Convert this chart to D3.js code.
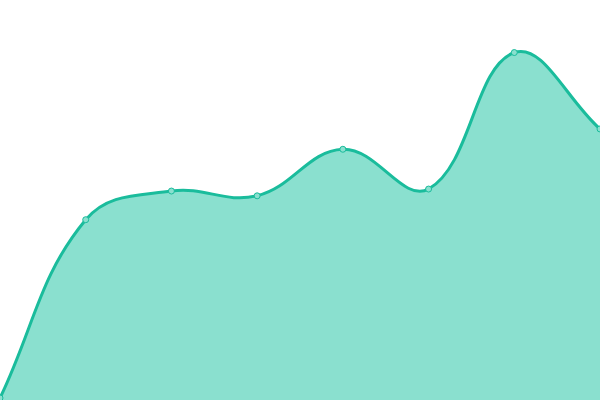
<!DOCTYPE html>
<html lang="en">
    <head>
        <meta charset="utf-8">
        <title>Area chart</title>
        <style>
            html, body { margin: 0; padding: 0; background: #fff; }
            svg { display: block; }
        </style>
    </head>
    <body>
        <div id="wrapper"></div>
        <script src="https://cdn.jsdelivr.net/npm/d3@7"></script>
        <script>
            const categories = ["A", "B", "C", "D", "E", "F", "G", "H"]
            const values = [0, 44.8, 52, 50.8, 62.5, 52.5, 86.8, 67.6]
            const yDomain = [0, 100]

            // spline with distance-weighted control points (tension 0.4)
            function splinePath(pts, tension, closeTo){
                const path = d3.path()
                const ctrl = pts.map((cur, i) => {
                    const prev = pts[i - 1] || cur
                    const next = pts[i + 1] || cur
                    const d01 = Math.hypot(cur[0] - prev[0], cur[1] - prev[1])
                    const d12 = Math.hypot(next[0] - cur[0], next[1] - cur[1])
                    let s01 = d01 / (d01 + d12)
                    let s12 = d12 / (d01 + d12)
                    s01 = isNaN(s01) ? 0 : s01
                    s12 = isNaN(s12) ? 0 : s12
                    const fa = tension * s01
                    const fb = tension * s12
                    return {
                        before: [cur[0] - fa * (next[0] - prev[0]), cur[1] - fa * (next[1] - prev[1])],
                        after: [cur[0] + fb * (next[0] - prev[0]), cur[1] + fb * (next[1] - prev[1])]
                    }
                })
                path.moveTo(pts[0][0], pts[0][1])
                for (let i = 1; i < pts.length; i++) {
                    const a = ctrl[i - 1].after
                    const b = ctrl[i].before
                    path.bezierCurveTo(a[0], a[1], b[0], b[1], pts[i][0], pts[i][1])
                }
                if (closeTo !== undefined) {
                    path.lineTo(pts[pts.length - 1][0], closeTo)
                    path.lineTo(pts[0][0], closeTo)
                    path.closePath()
                }
                return path.toString()
            }

            function drawChart(){
                const dimensions = { width: 600, height: 400 }

                const wrapper = d3.select("#wrapper")
                    .append("svg")
                    .attr("width", dimensions.width)
                    .attr("height", dimensions.height)

                const xScale = d3.scalePoint()
                    .domain(categories)
                    .range([0, dimensions.width])

                const yScale = d3.scaleLinear()
                    .domain(yDomain)
                    .range([398, 0])

                const data = categories.map((c, i) => ({ cat: c, value: values[i] }))
                const pts = data.map(d => [xScale(d.cat), yScale(d.value)])

                wrapper.append("path")
                    .attr("d", splinePath(pts, 0.4, dimensions.height))
                    .style("fill", "#8ae0cf")

                wrapper.append("path")
                    .attr("d", splinePath(pts, 0.4))
                    .style("fill", "none")
                    .style("stroke", "#1abc9c")
                    .style("stroke-width", 3)

                // markers
                wrapper.selectAll(".dot")
                    .data(data)
                    .join("circle")
                    .attr("class", "dot")
                    .attr("cx", d => xScale(d.cat))
                    .attr("cy", d => yScale(d.value))
                    .attr("r", 3)
                    .style("fill", "#8ae0cf")
                    .style("stroke", "#1abc9c")
                    .style("stroke-width", 1)
            }
            drawChart()
        </script>
    </body>
</html>
